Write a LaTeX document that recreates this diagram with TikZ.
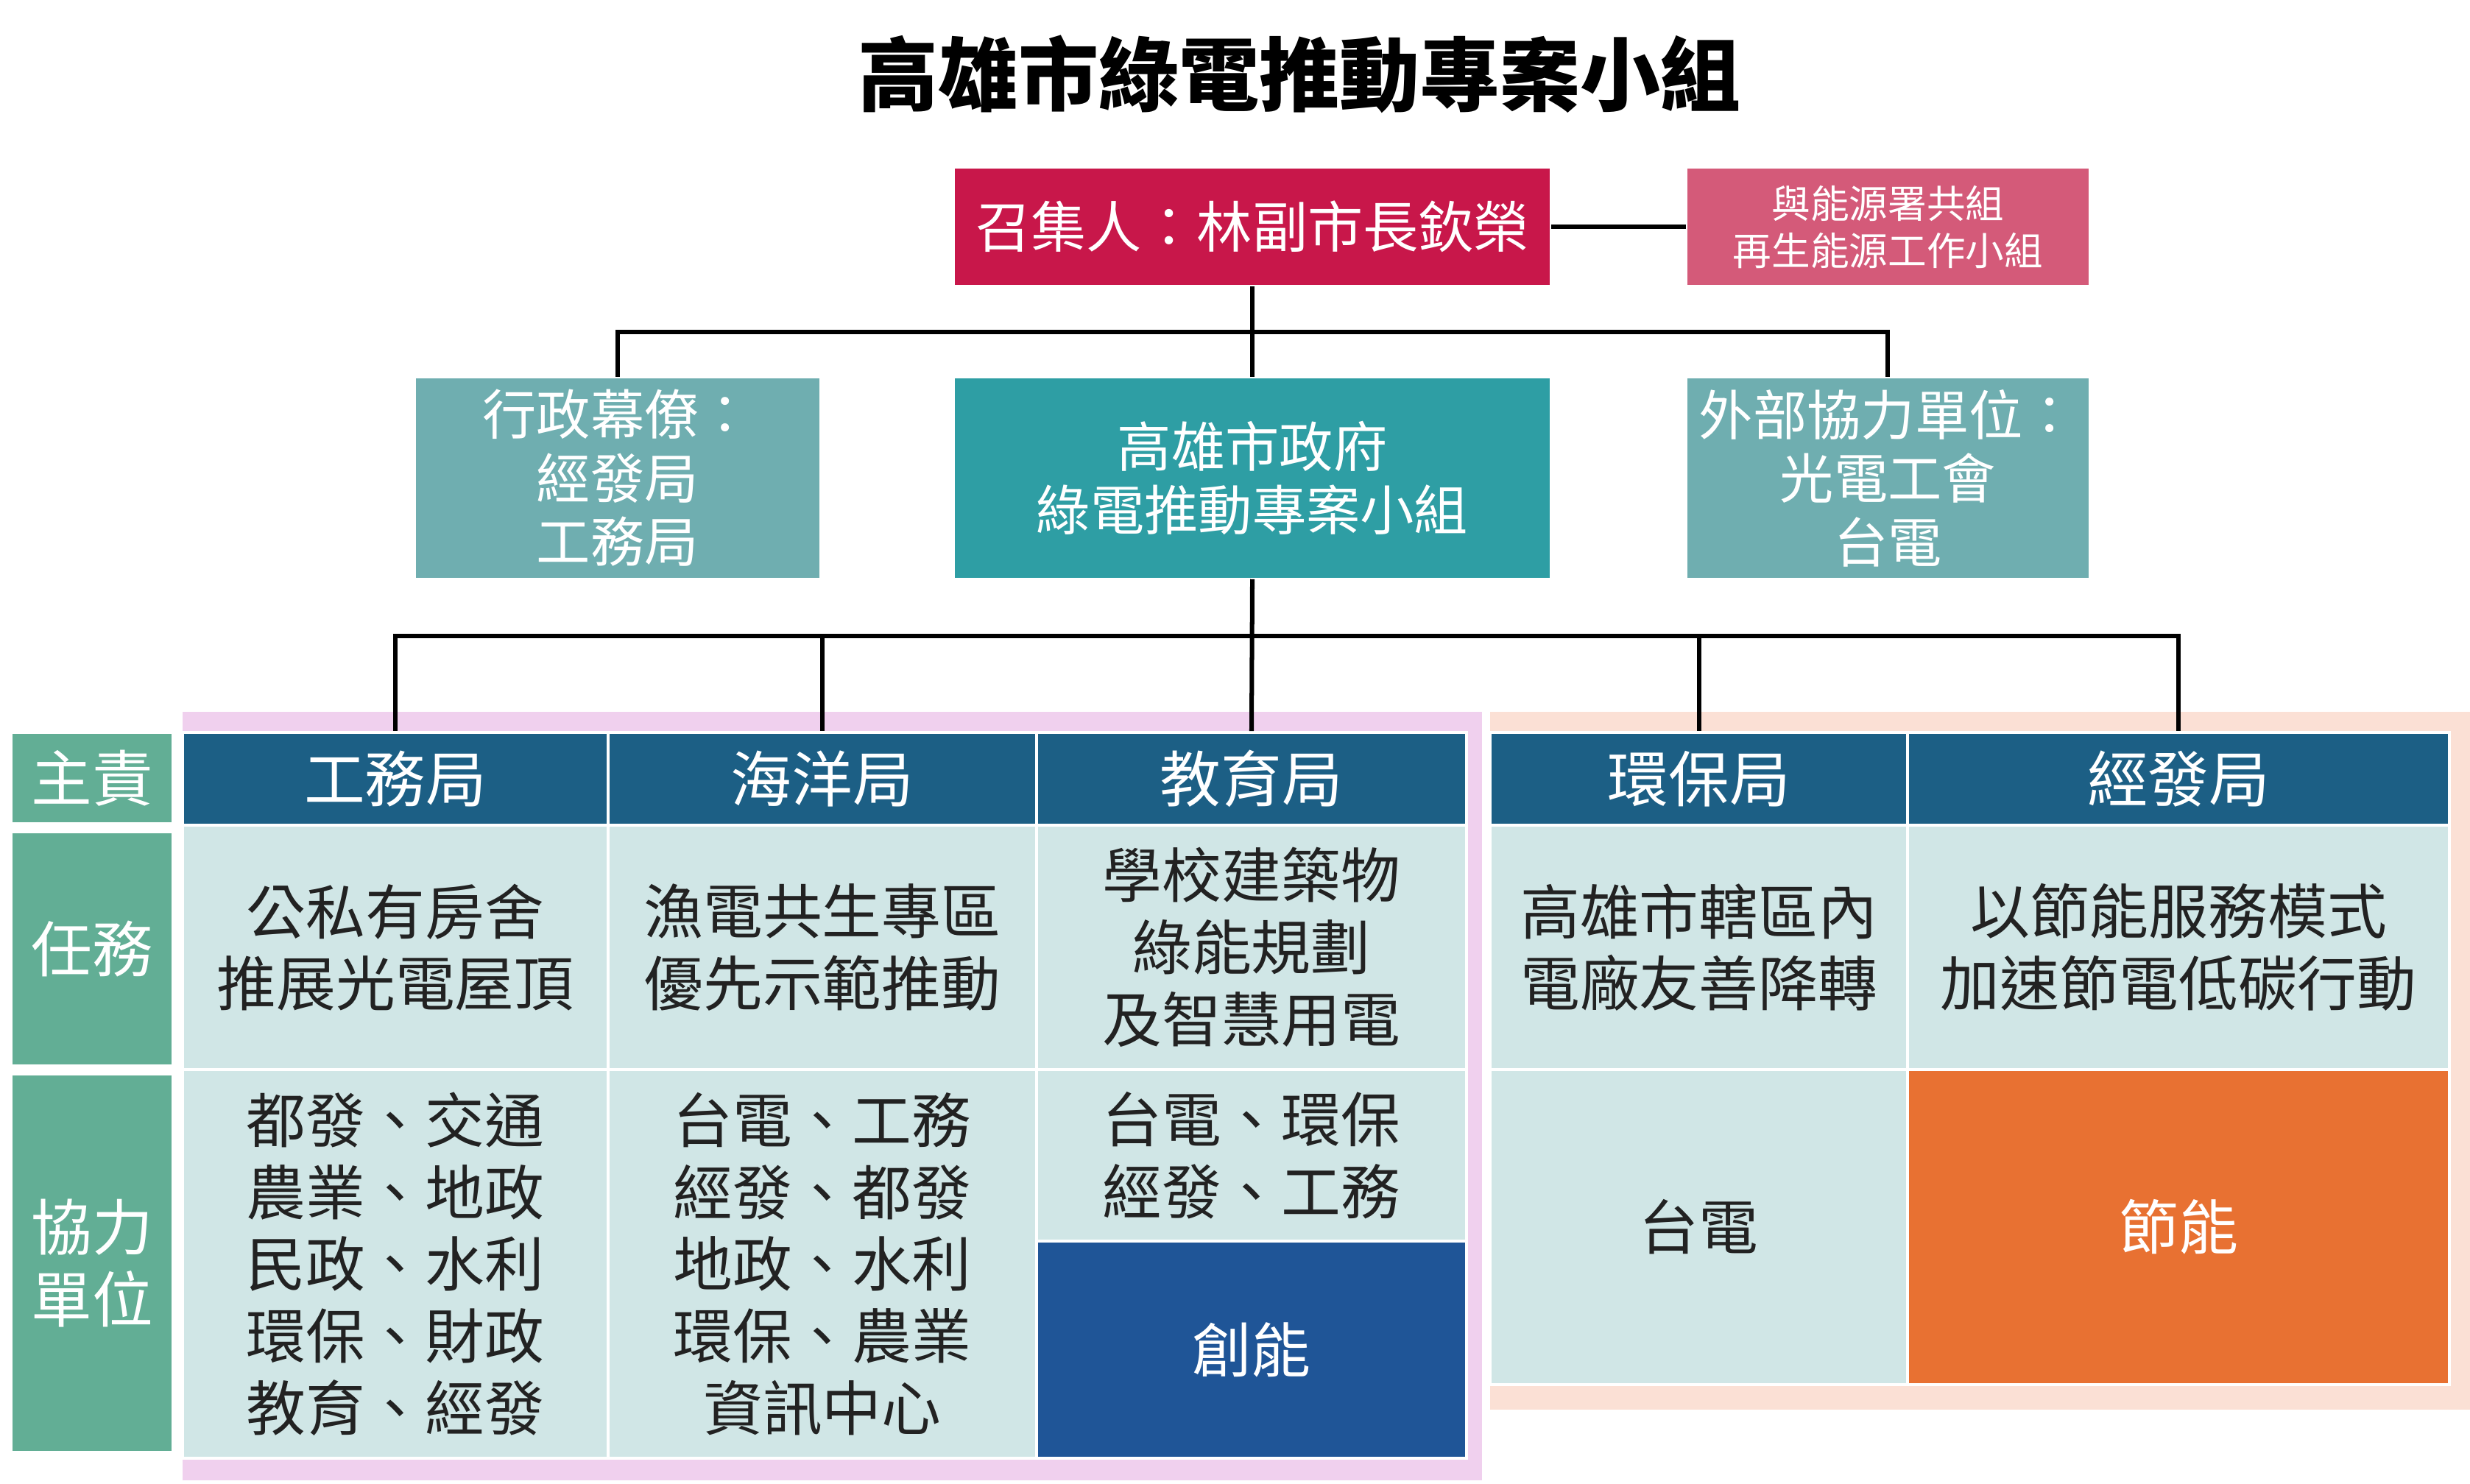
\documentclass[tikz,border=0pt]{standalone}
\usepackage{fontspec}
\setmainfont{Noto Sans CJK TC}
\definecolor{convred}{HTML}{C8174A}
\definecolor{sidepink}{HTML}{D45A79}
\definecolor{tealL}{HTML}{6FAEB0}
\definecolor{tealD}{HTML}{2E9EA4}
\definecolor{headblue}{HTML}{1C5F85}
\definecolor{labgreen}{HTML}{62AE95}
\definecolor{cellbg}{HTML}{D0E6E6}
\definecolor{bgpink}{HTML}{F0D0EE}
\definecolor{bgpeach}{HTML}{FBE0D5}
\definecolor{energyblue}{HTML}{1F5597}
\definecolor{energyorange}{HTML}{E87132}
\definecolor{txt}{HTML}{222222}

% box from corner (x1,y1) to (x2,y2)
\newcommand{\orgbox}[7]{%
  \node[#6, minimum width={(#4-#2)*0.02cm}, minimum height={(#5-#3)*0.02cm}]
    (#1) at ({(#2+#4)/2},{(#3+#5)/2}) {#7};}

\begin{document}
\begin{tikzpicture}[x=0.02cm,y=-0.02cm,thick,
  treeline/.style={line width=1.6pt,black},
  box/.style={rectangle,inner sep=0pt,align=center,text=white},
  headbox/.style={box,fill=convred,font=\fontsize{20}{24}\selectfont},
  pinkbox/.style={box,fill=sidepink,font=\fontsize{14}{17}\selectfont},
  lightbox/.style={box,fill=tealL,font=\fontsize{19.5}{23}\selectfont},
  darkbox/.style={box,fill=tealD,font=\fontsize{19.5}{23}\selectfont},
  colhead/.style={box,fill=headblue,draw=white,line width=1pt,font=\fontsize{22}{26}\selectfont},
  rowlab/.style={box,fill=labgreen,font=\fontsize{22}{26}\selectfont},
  cell/.style={box,fill=cellbg,draw=white,line width=1pt,text=txt,font=\fontsize{21.5}{26}\selectfont},
  energy/.style={box,draw=white,line width=1pt,font=\fontsize{21.5}{26}\selectfont}]

  \useasboundingbox[fill=white] (0,0) rectangle (1568,942);

  \node[font=\fontsize{29}{34}\selectfont\bfseries,text=black] (title) at (825,47) {高雄市綠電推動專案小組};

  % top of the tree
  \orgbox{conv}{606}{107}{984}{181}{headbox}{召集人：林副市長欽榮}
  \orgbox{side}{1071}{107}{1326}{181}{pinkbox}{與能源署共組\\再生能源工作小組}
  \orgbox{admin}{264}{240}{520}{367}{lightbox}{行政幕僚：\\經發局\\工務局}
  \orgbox{gov}{606}{240}{984}{367}{darkbox}{高雄市政府\\綠電推動專案小組}
  \orgbox{ext}{1071}{240}{1326}{367}{lightbox}{外部協力單位：\\光電工會\\台電}

  % group backgrounds
  \fill[bgpink] (116,452) rectangle (941,940);
  \fill[bgpeach] (946,452) rectangle (1568,895);

  % row labels
  \orgbox{lMain}{8}{466}{109}{522}{rowlab}{主責}
  \orgbox{lTask}{8}{529}{109}{676}{rowlab}{任務}
  \orgbox{lHelp}{8}{683}{109}{921}{rowlab}{協力\\單位}

  % column heads
  \orgbox{hWork}{116}{465}{386}{524}{colhead}{工務局}
  \orgbox{hSea}{386}{465}{658}{524}{colhead}{海洋局}
  \orgbox{hEdu}{658}{465}{931}{524}{colhead}{教育局}
  \orgbox{hEnv}{946}{465}{1211}{524}{colhead}{環保局}
  \orgbox{hEco}{1211}{465}{1555}{524}{colhead}{經發局}

  % tasks
  \orgbox{tWork}{116}{524}{386}{679}{cell}{公私有房舍\\推展光電屋頂}
  \orgbox{tSea}{386}{524}{658}{679}{cell}{漁電共生專區\\優先示範推動}
  \orgbox{tEdu}{658}{524}{931}{679}{cell}{學校建築物\\綠能規劃\\及智慧用電}
  \orgbox{tEnv}{946}{524}{1211}{679}{cell}{高雄市轄區內\\電廠友善降轉}
  \orgbox{tEco}{1211}{524}{1555}{679}{cell}{以節能服務模式\\加速節電低碳行動}

  % cooperating units
  \orgbox{cWork}{116}{679}{386}{926}{cell}{都發、交通\\農業、地政\\民政、水利\\環保、財政\\教育、經發}
  \orgbox{cSea}{386}{679}{658}{926}{cell}{台電、工務\\經發、都發\\地政、水利\\環保、農業\\資訊中心}
  \orgbox{cEdu}{658}{679}{931}{788}{cell}{台電、環保\\經發、工務}
  \orgbox{eEdu}{658}{788}{931}{926}{energy,fill=energyblue}{創能}
  \orgbox{cEnv}{946}{679}{1211}{879}{cell}{台電}
  \orgbox{eEco}{1211}{679}{1555}{879}{energy,fill=energyorange}{節能}

  % connectors
  \coordinate (j1) at (795,211);
  \coordinate (j2) at (795,404);
  \draw[treeline] (conv.east) -- (side.west);
  \draw[treeline] (conv.south) -- (gov.north);
  \draw[treeline] (j1) -| (admin.north);
  \draw[treeline] (j1) -| (ext.north);
  \draw[treeline] (gov.south) -- (hEdu.north);
  \draw[treeline] (j2) -| (hWork.north);
  \draw[treeline] (j2) -| (hSea.north);
  \draw[treeline] (j2) -| (hEnv.north);
  \draw[treeline] (j2) -| (hEco.north);
\end{tikzpicture}
\end{document}
